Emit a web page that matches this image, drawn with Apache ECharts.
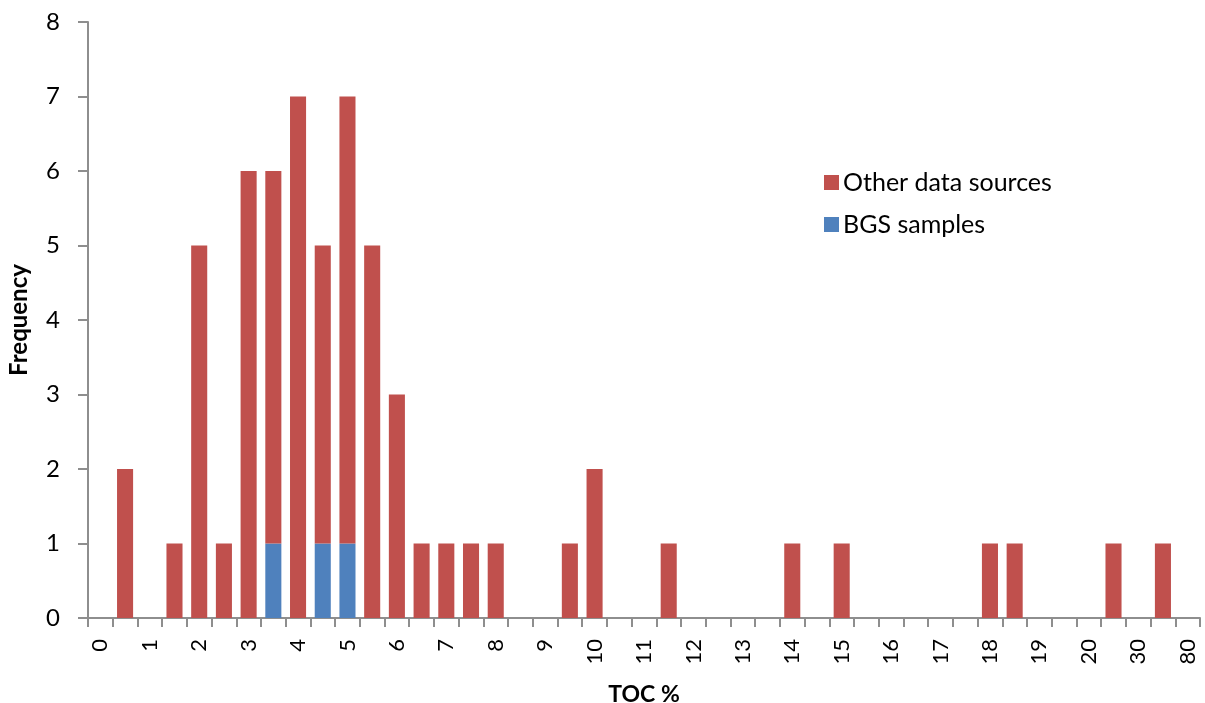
<!DOCTYPE html>
<html>
<head>
<meta charset="utf-8">
<script src="https://cdn.jsdelivr.net/npm/echarts@6/dist/echarts.min.js"></script>
<style>
  html, body { margin: 0; padding: 0; background: #fff; }
  #chart { width: 1205px; height: 703px; }
</style>
</head>
<body>
<div id="chart"></div>
<script>
// TOC % bins (every other label is shown on the axis)
const tocBins = [
  "0", "0.5", "1", "1.5", "2", "2.5", "3", "3.5", "4", "4.5",
  "5", "5.5", "6", "6.5", "7", "7.5", "8", "8.5", "9", "9.5",
  "10", "10.5", "11", "11.5", "12", "12.5", "13", "13.5", "14", "14.5",
  "15", "15.5", "16", "16.5", "17", "17.5", "18", "18.5", "19", "19.5",
  "20", "25", "30", "50", "80"
];

const bgsSamples = [
  0, 0, 0, 0, 0, 0, 0, 1, 0, 1,
  1, 0, 0, 0, 0, 0, 0, 0, 0, 0,
  0, 0, 0, 0, 0, 0, 0, 0, 0, 0,
  0, 0, 0, 0, 0, 0, 0, 0, 0, 0,
  0, 0, 0, 0, 0
];

const otherSources = [
  0, 2, 0, 1, 5, 1, 6, 5, 7, 4,
  6, 5, 3, 1, 1, 1, 1, 0, 0, 1,
  2, 0, 0, 1, 0, 0, 0, 0, 1, 0,
  1, 0, 0, 0, 0, 0, 1, 1, 0, 0,
  0, 1, 0, 1, 0
];

const RED = "#C0504D";
const BLUE = "#4F81BD";
const AXIS = "#8E8E8E";
const FONT = "Lato, 'Open Sans', sans-serif";

const chart = echarts.init(document.getElementById("chart"));

const option = {
  animation: false,
  textStyle: { fontFamily: FONT, color: "#000" },
  grid: { left: 88, right: 5, top: 22, bottom: 85, containLabel: false, outerBoundsMode: "none" },
  legend: {
    data: ["Other data sources", "BGS samples"],
    orient: "vertical",
    left: 819,
    top: 165,
    icon: "rect",
    itemWidth: 15,
    itemHeight: 15,
    itemGap: 17,
    textStyle: { fontFamily: FONT, fontSize: 25, color: "#000", padding: [0, 0, 0, -1] }
  },
  xAxis: {
    type: "category",
    data: tocBins,
    name: "TOC %",
    nameLocation: "middle",
    nameGap: 65,
    nameTextStyle: { fontFamily: FONT, fontSize: 23, fontWeight: "bold", color: "#000" },
    axisLine: { lineStyle: { color: AXIS, width: 2 } },
    axisTick: { show: true, interval: 0, length: 9, lineStyle: { color: AXIS, width: 2 } },
    axisLabel: {
      interval: 1,
      rotate: 90,
      margin: 21,
      fontSize: 22,
      color: "#000",
      fontFamily: FONT
    },
    splitLine: { show: false }
  },
  yAxis: {
    type: "value",
    min: 0,
    max: 8,
    interval: 1,
    name: "Frequency",
    nameLocation: "middle",
    nameGap: 57,
    nameTextStyle: { fontFamily: FONT, fontSize: 24, fontWeight: "bold", color: "#000" },
    axisLine: { show: true, lineStyle: { color: AXIS, width: 2 } },
    axisTick: { show: true, length: 10, lineStyle: { color: AXIS, width: 2 } },
    axisLabel: { margin: 28, fontSize: 24, color: "#000", fontFamily: FONT },
    splitLine: { show: false }
  },
  series: [
    {
      name: "BGS samples",
      type: "bar",
      stack: "toc",
      data: bgsSamples,
      barCategoryGap: "35%",
      itemStyle: { color: BLUE }
    },
    {
      name: "Other data sources",
      type: "bar",
      stack: "toc",
      data: otherSources,
      barCategoryGap: "35%",
      itemStyle: { color: RED }
    }
  ]
};

chart.setOption(option);
</script>
</body>
</html>
